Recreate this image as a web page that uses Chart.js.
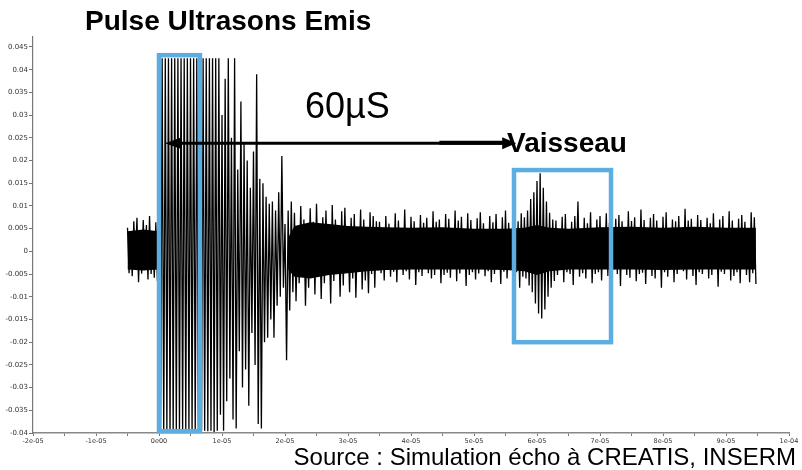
<!DOCTYPE html>
<html>
<head>
<meta charset="utf-8">
<script src="https://cdn.jsdelivr.net/npm/chart.js@4.4.1/dist/chart.umd.min.js"></script>
<style>
html, body { margin: 0; padding: 0; background: #fff; }
canvas { display: block; }
</style>
</head>
<body>
<canvas id="echoChart" width="802" height="470"></canvas>
<script>
// temps en microsecondes (1e-6 s), amplitude en millièmes (1e-3)
var tStart = -5;
var tStep = 0.25;

// extrêmes successifs du signal (crête, creux, crête, ...)
var signal = [
    // bruit avant l'émission (-5 .. 0 µs)
    5.2, -4.8, 3.4, -5.5, 6.6, -3.0, 7.4, -6.8, 3.8, -4.9, 6.9, -3.4, 5.8, -6.2, 7.8, -5.0, 4.0, -5.8, 6.4, -6.5,
    // pulse émis, saturé (0 .. 8.75 µs)
    42.5, -39.5, 42.5, -39.8, 42.5, -39.5, 42.5, -40.0, 42.5, -39.5, 42.5, -39.6, 42.5, -39.5, 42.5, -39.8, 42.5, -39.5,
    42.5, -39.5, 42.5, -39.7, 42.5, -39.5, 42.5, -39.9, 42.5, -39.5, 42.5, -39.5, 42.5, -39.6, 42.5, -39.5, 42.5, -39.8,
    // résonance qui s'amortit (9 .. 21.25 µs)
    42.5, -39.5, 42.5, -36, 30, -39.5, 38, -33, 42.5, -28, 25, -37, 42.5, -39, 18, -22, 33, -30, 24, -26,
    20, -34, 14, -18, 22, -25, 39, -38, 16, -39, 15, -20, 12, -19, 10.5, -15, 11, -19, 9, -12,
    13, -10, 21, -8, 6, -24, 9, -13, 11, -9,
    // bruit décroissant (21.5 .. 34.75 µs)
    8.5, -11, 5, -7, 10, -4.5, 7, -12, 4.5, -8, 9.5, -5, 6.5, -9.5, 10.5, -4, 5.5, -10.5, 7.5, -7,
    9, -4.5, 4.8, -11.5, 10.2, -6.5, 7, -4.2, 5.2, -10, 8.8, -7.5, 9.6, -4.0, 4.6, -9, 7.4, -6, 8.2, -10.2,
    5.0, -4.4, 9.2, -8.4, 7, -6.4, 4.4, -9.2, 8.6, -5, 7.8, -8, 6.6, -4.2,
    // bruit stable (35 .. 57.75 µs)
    6.5, -4.8, 4.2, -6.4, 7.8, -3.2, 6.1, -5.6, 3.8, -4.5, 8.4, -6.8, 6.8, -3.5, 5.0, -5.2, 9.2, -4.4, 4.4, -6.2,
    7.6, -3.6, 6.6, -7.4, 3.6, -4.6, 8.0, -5.4, 6.3, -3.0, 7.4, -4.8, 4.6, -6.0, 8.8, -5.2, 6.5, -3.4, 7.0, -7.0,
    3.9, -5.2, 8.2, -4.7, 7.2, -5.8, 4.8, -3.6, 9.0, -6.6, 6.8, -4.9, 7.6, -3.3, 4.0, -7.6, 8.4, -5.2, 6.9, -4.6,
    3.7, -6.2, 7.3, -4.9, 8.6, -3.4, 6.2, -5.5, 4.5, -4.4, 7.8, -6.8, 6.4, -5.0, 8.2, -3.1, 4.1, -7.2, 7.5, -4.5,
    9.0, -6.0, 6.3, -3.6, 3.8, -5.1, 7.1, -4.6, 6.6, -8.0, 8.4, -5.6,
    // écho du vaisseau (58 .. 62.75 µs)
    7.5, -6.0, 9.0, -7.5, 11.5, -9.0, 13.0, -11.5, 15.5, -13.7, 17.2, -14.8, 14.0, -12.8, 11.0, -10.0, 8.5, -8.0, 7.0, -6.5,
    // bruit stable (63 .. 94.75 µs)
    6.8, -5.2, 4.0, -3.4, 7.6, -6.8, 8.2, -4.6, 3.7, -5.0, 6.5, -7.4, 7.8, -3.2, 11.0, -5.6, 4.6, -4.8, 7.4, -6.0,
    6.2, -3.5, 8.6, -7.0, 3.9, -5.0, 7.0, -4.6, 7.8, -6.4, 4.4, -3.2, 8.4, -5.4, 6.3, -6.8, 3.6, -4.0, 7.2, -5.0,
    8.0, -7.6, 6.6, -3.4, 4.2, -5.2, 8.8, -5.8, 6.7, -3.6, 7.5, -6.6, 3.8, -5.0, 9.2, -4.7, 6.9, -7.2, 4.5, -3.3,
    7.4, -5.4, 8.2, -6.0, 6.8, -3.5, 3.9, -8.0, 7.6, -4.6, 8.6, -5.6, 4.3, -3.4, 7.0, -6.8, 6.6, -5.0, 7.8, -3.6,
    4.1, -4.4, 9.4, -6.2, 6.8, -3.2, 7.2, -5.4, 3.7, -7.4, 8.0, -4.6, 6.9, -5.0, 4.6, -3.4, 7.4, -6.0, 6.2, -5.2,
    8.4, -3.6, 4.0, -7.8, 7.0, -4.5, 7.8, -5.0, 3.8, -3.2, 8.8, -6.4, 6.8, -5.4, 4.4, -4.6, 7.2, -7.0, 8.0, -3.4,
    6.5, -5.2, 3.9, -6.8, 8.6, -4.8, 7.5, -7.2
];

// bande noire dense du bruit (enveloppe du coeur)
var preCoreTimes = [-5, -2.5, -0.1];
var preCoreTop = [4.4, 4.8, 4.4];
var preCoreBottom = [-4.0, -4.2, -4.0];

var coreTimes = [20.5, 21.5, 24, 27, 30, 33, 36, 40, 45, 50, 55, 58, 60, 62, 65, 70, 75, 80, 85, 90, 94.75];
var coreTop = [3.0, 5.6, 6.4, 6.0, 5.6, 5.4, 5.3, 5.2, 5.3, 5.0, 5.0, 5.2, 5.8, 5.2, 5.0, 5.3, 5.4, 5.2, 5.4, 5.2, 5.2];
var coreBottom = [-4.0, -5.6, -6.0, -5.2, -4.8, -4.4, -4.1, -4.0, -4.0, -4.0, -4.1, -4.4, -5.2, -4.4, -4.0, -4.0, -4.0, -4.1, -4.0, -4.0, -4.0];

var xTicks = [-20, -10, 0, 10, 20, 30, 40, 50, 60, 70, 80, 90, 100];
var xTickLabels = ["-2e-05", "-1e-05", "0e00", "1e-05", "2e-05", "3e-05", "4e-05", "5e-05", "6e-05", "7e-05", "8e-05", "9e-05", "1e-04"];
var yTicks = [-40, -35, -30, -25, -20, -15, -10, -5, 0, 5, 10, 15, 20, 25, 30, 35, 40, 45];
var yTickLabels = ["-0.04", "-0.035", "-0.03", "-0.025", "-0.02", "-0.015", "-0.01", "-0.005", "0",
    "0.005", "0.01", "0.015", "0.02", "0.025", "0.03", "0.035", "0.04", "0.045"];

var points = signal.map(function (v, i) {
    return { x: tStart + i * tStep, y: v };
});

function pairUp(times, values) {
    return times.map(function (t, i) { return { x: t, y: values[i] }; });
}

function band(times, values, fillTo) {
    return {
        data: pairUp(times, values),
        borderWidth: 0,
        pointRadius: 0,
        tension: 0,
        backgroundColor: '#000',
        fill: fillTo,
        order: 2
    };
}

var tickFont = { family: "'DejaVu Sans', sans-serif", size: 7 };

// cadres bleus, flèche et textes
var overlay = {
    id: 'overlay',
    afterDraw: function (chart) {
        var c = chart.ctx;
        var xs = chart.scales.x, ys = chart.scales.y;
        function px(t) { return xs.getPixelForValue(t); }
        function py(v) { return ys.getPixelForValue(v); }
        c.save();

        c.strokeStyle = '#5caee0';
        c.lineWidth = 4.5;
        c.strokeRect(px(0), py(43.2), px(6.5) - px(0), py(-39.6) - py(43.2));
        c.strokeRect(px(56.35), py(17.9), px(71.75) - px(56.35), py(-20.0) - py(17.9));

        // flèche 60µS
        var ay = py(23.8), ax1 = px(0.95), ax2 = px(56.7);
        c.strokeStyle = '#000';
        c.fillStyle = '#000';
        c.lineWidth = 3;
        c.beginPath();
        c.moveTo(ax1 + 10, ay);
        c.lineTo(ax2 - 8, ay);
        c.stroke();
        c.lineWidth = 4;
        c.beginPath();
        c.moveTo(px(44.5), ay - 0.5);
        c.lineTo(ax2 - 8, ay - 0.5);
        c.stroke();
        c.beginPath();
        c.moveTo(ax1, ay);
        c.lineTo(ax1 + 17, ay - 6);
        c.lineTo(ax1 + 17, ay + 6);
        c.closePath();
        c.fill();
        c.beginPath();
        c.moveTo(ax2, ay);
        c.lineTo(ax2 - 14, ay - 6);
        c.lineTo(ax2 - 14, ay + 6);
        c.closePath();
        c.fill();

        c.textBaseline = 'alphabetic';
        c.textAlign = 'left';
        c.font = "bold 28px 'Liberation Sans', Arial, sans-serif";
        c.fillText('Pulse Ultrasons Emis', 85, 30);
        c.font = "36px 'Liberation Sans', Arial, sans-serif";
        c.fillText('60µS', 305, 118);
        c.font = "bold 28px 'Liberation Sans', Arial, sans-serif";
        c.fillText('Vaisseau', 507, 152);
        c.textAlign = 'right';
        c.font = "24px 'Liberation Sans', Arial, sans-serif";
        c.fillText('Source : Simulation écho à CREATIS, INSERM', 796, 465);
        c.restore();
    }
};

var ctx = document.getElementById("echoChart").getContext('2d');
var echoChart = new Chart(ctx, {
    type: 'line',
    data: {
        datasets: [
            band(preCoreTimes, preCoreTop, '+1'),
            band(preCoreTimes, preCoreBottom, false),
            band(coreTimes, coreTop, '+1'),
            band(coreTimes, coreBottom, false),
            {
                label: 'Signal',
                data: points,
                borderColor: '#000',
                borderWidth: 1.3,
                pointRadius: 0,
                tension: 0,
                fill: false,
                order: 1
            }
        ]
    },
    options: {
        responsive: false,
        animation: false,
        events: [],
        layout: { padding: { left: 0, top: 37, right: 13, bottom: 0 } },
        plugins: {
            legend: { display: false },
            tooltip: { enabled: false }
        },
        scales: {
            x: {
                type: 'linear',
                min: -20,
                max: 100,
                afterFit: function (s) { s.height = 37; },
                grid: { drawOnChartArea: false, drawTicks: true, tickLength: 3, color: '#777' },
                border: { color: '#888', width: 1.5 },
                ticks: {
                    stepSize: 5,
                    autoSkip: false,
                    maxRotation: 0,
                    padding: 1,
                    color: '#333',
                    font: { family: "'DejaVu Sans', sans-serif", size: 6.5 },
                    callback: function (v) {
                        var k = xTicks.indexOf(Math.round(v));
                        return (k < 0 || Math.abs(v - Math.round(v)) > 1e-6) ? '' : xTickLabels[k];
                    }
                }
            },
            y: {
                min: -40,
                max: 47.2,
                afterFit: function (s) { s.width = 33; },
                afterBuildTicks: function (s) {
                    s.ticks = yTicks.map(function (v) { return { value: v }; });
                },
                grid: { drawOnChartArea: false, drawTicks: true, tickLength: 4, color: '#777' },
                border: { color: '#777', width: 1.2 },
                ticks: {
                    padding: 1,
                    color: '#333',
                    font: tickFont,
                    callback: function (v) {
                        var k = yTicks.indexOf(Math.round(v));
                        return k < 0 ? '' : yTickLabels[k];
                    }
                }
            }
        }
    },
    plugins: [overlay]
});
</script>
</body>
</html>
